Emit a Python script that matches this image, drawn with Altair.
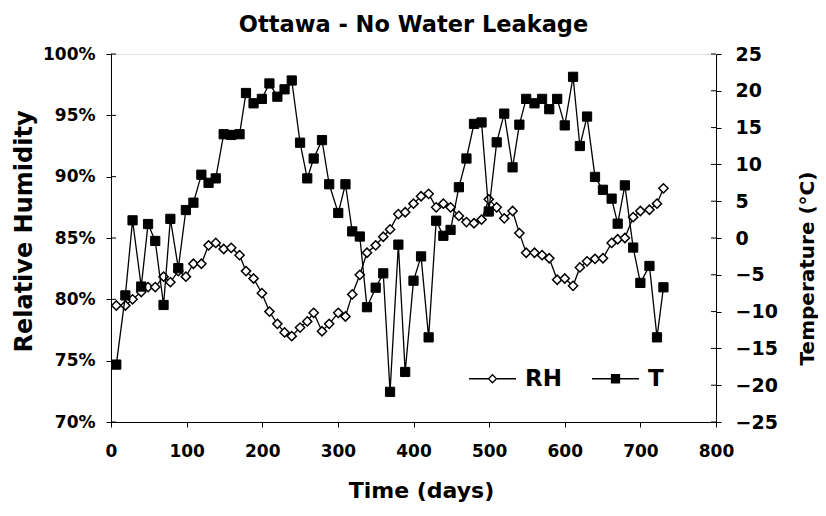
import altair as alt
import pandas as pd

days = [7, 19, 28.5, 40, 49, 58.5, 69.5, 78.5, 89, 99, 109, 119.5, 129, 138.5, 149, 159, 170, 178.5,
        188.5, 199.5, 209.5, 220, 229.5, 239, 250, 259.5, 268, 279, 288.5, 300.5, 310, 319, 329,
        338.5, 350, 360, 369, 380, 389, 400, 410, 420, 430, 439.5, 449, 460, 470, 480, 490, 499.5,
        510, 520, 531, 540, 549, 560, 570, 579.5, 590, 600, 611, 620, 629.5, 640, 650.5, 662, 670,
        679.5, 690.5, 700, 712, 722, 730.5]

rh = [79.5, 79.5, 80.0, 80.6, 81.0, 81.0, 81.85, 81.4, 82.3, 81.85,
      82.9, 82.9, 84.4, 84.6, 84.1, 84.2, 83.6, 82.3, 81.7, 80.5,
      79.0, 78.0, 77.3, 77.0, 77.7, 78.2, 78.9, 77.4, 78.0, 78.9,
      78.6, 80.4, 82.0, 83.8, 84.4, 85.1, 85.7, 86.95, 87.1, 87.8,
      88.4, 88.6, 87.5, 87.8, 87.5, 86.8, 86.3, 86.2, 86.5, 88.15,
      87.5, 86.6, 87.2, 85.4, 83.8, 83.8, 83.6, 83.35, 81.6, 81.7,
      81.1, 82.6, 83.1, 83.3, 83.35, 84.6, 84.9, 85.0, 86.7, 87.2,
      87.3, 87.8, 89.05]

temp = [-17.2, -7.8, 2.4, -6.6, 1.9, -0.4, -9.1, 2.6, -4.1, 3.8,
        4.8, 8.6, 7.5, 8.1, 14.1, 14.0, 14.1, 19.7, 18.3, 18.9,
        21.0, 19.2, 20.2, 21.4, 12.95, 8.1, 10.8, 13.3, 7.3, 3.4,
        7.3, 0.9, 0.2, -9.4, -6.75, -4.8, -20.9, -0.9, -18.2, -5.8,
        -2.5, -13.5, 2.35, 0.3, 1.1, 6.9, 10.8, 15.5, 15.7, 3.6,
        13.0, 16.9, 9.6, 15.4, 18.9, 18.3, 18.9, 17.5, 18.9, 15.3,
        21.9, 12.5, 16.5, 8.3, 6.55, 5.35, 1.95, 7.15, -1.3, -6.1,
        -3.8, -13.5, -6.7]

series_names = ["RH", "T"]
x_ticks = [0, 100, 200, 300, 400, 500, 600, 700, 800]
rh_ticks = [0.70, 0.75, 0.80, 0.85, 0.90, 0.95, 1.00]
t_ticks = [-25, -20, -15, -10, -5, 0, 5, 10, 15, 20, 25]

FONT = "DejaVu Sans"

df = pd.DataFrame({"day": days, "RH": [v / 100 for v in rh], "T": temp})
rh_tick_df = pd.DataFrame({"v": rh_ticks})
t_tick_df = pd.DataFrame({"v": t_ticks})
leg_df = pd.DataFrame({"series": series_names})

common_axis = dict(domainColor="black", tickColor="black", labelColor="black", titleColor="black",
                   grid=False, labelFont=FONT, labelFontWeight="bold", titleFont=FONT,
                   titleFontWeight="bold", labelFlush=False, labelOverlap=False, tickSize=5,
                   domainWidth=1, tickWidth=1)

x_enc = alt.X("day:Q", scale=alt.Scale(domain=[0, 800], nice=False),
              axis=alt.Axis(values=x_ticks, title="Time (days)", labelFontSize=17, labelPadding=16,
                            titleFontSize=22, titleX=310, titleY=68, titleAlign="center",
                            titleBaseline="middle", **common_axis))

rh_scale = alt.Scale(domain=[0.70, 1.00], nice=False, zero=False)
left_axis = alt.Axis(values=rh_ticks, format=".0%", title="Relative Humidity", orient="left",
                     labelFontSize=17, labelPadding=11, titleFontSize=24, titleAngle=270,
                     titleX=-87, titleY=177, titleAlign="center", titleBaseline="middle",
                     **common_axis)

t_scale = alt.Scale(domain=[-25, 25], nice=False, zero=False)
right_axis = alt.Axis(values=t_ticks, title="Temperature (°C)", orient="right",
                      labelFontSize=19, labelPadding=14, titleFontSize=20, titleAngle=270,
                      titleX=91, titleY=214, titleAlign="center", titleBaseline="middle",
                      **common_axis)

p_rh = "M-1,0H-0.17M0,-0.17L0.17,0L0,0.17L-0.17,0ZM0.17,0H1"
p_t = "M-1,0H-0.17M-0.17,-0.17H0.17V0.17H-0.17ZM0.17,0H1"

legend_def = alt.Legend(title=None, orient="none", legendX=357, legendY=300, direction="horizontal",
                        labelFont=FONT, labelFontSize=23, labelFontWeight="bold", labelColor="black",
                        labelOffset=8, columnPadding=27, symbolSize=2209, symbolStrokeWidth=1.3,
                        symbolStrokeColor="black", padding=0)

y_rh = alt.Y("RH:Q", scale=rh_scale, axis=left_axis)
rh_line = alt.Chart(df).mark_line(color="black", strokeWidth=1.3).encode(x=x_enc, y=y_rh)
rh_pts = alt.Chart(df).mark_point(shape="diamond", filled=True, fill="white", stroke="black",
                                  strokeWidth=1.5, size=85, opacity=1).encode(x=x_enc, y=y_rh)
left_ticks = alt.Chart(rh_tick_df).mark_rule(color="black", strokeWidth=1).encode(
    y=alt.Y("v:Q", scale=rh_scale, axis=left_axis), x=alt.value(0), x2=alt.value(5))
legend_layer = alt.Chart(leg_df).mark_point(clip=True, filled=True, strokeWidth=1.3,
                                            opacity=1).encode(
    x=alt.value(-50), y=alt.value(-50),
    shape=alt.Shape("series:N", scale=alt.Scale(domain=series_names, range=[p_rh, p_t]),
                    legend=legend_def),
    fill=alt.Fill("series:N", scale=alt.Scale(domain=series_names, range=["white", "black"]),
                  legend=legend_def),
    stroke=alt.Stroke("series:N", scale=alt.Scale(domain=series_names, range=["black", "black"]),
                      legend=legend_def))

left = alt.layer(rh_line, rh_pts, left_ticks, legend_layer)

y_t = alt.Y("T:Q", scale=t_scale, axis=right_axis)
t_line = alt.Chart(df).mark_line(color="black", strokeWidth=1.3).encode(x=x_enc, y=y_t)
t_pts = alt.Chart(df).mark_point(shape="square", filled=True, fill="black", stroke="black",
                                 strokeWidth=1, size=85, opacity=1).encode(x=x_enc, y=y_t)
right_ticks = alt.Chart(t_tick_df).mark_rule(color="black", strokeWidth=1).encode(
    y=alt.Y("v:Q", scale=t_scale, axis=right_axis), x=alt.value(600), x2=alt.value(605))

right = alt.layer(t_line, t_pts, right_ticks)

chart = alt.layer(left, right).resolve_scale(y="independent").properties(
    width=605, height=368,
    title=alt.TitleParams("Ottawa - No Water Leakage", font=FONT, fontSize=22.5, fontWeight="bold",
                          anchor="middle", offset=9, color="black"),
    padding={"left": 103, "top": 46, "right": 102, "bottom": 84},
    autosize=alt.AutoSizeParams(type="none"),
).configure_view(stroke="black", strokeWidth=1).configure(background="white")

chart.save("out.html", embed_options={"renderer": "svg", "actions": False})
